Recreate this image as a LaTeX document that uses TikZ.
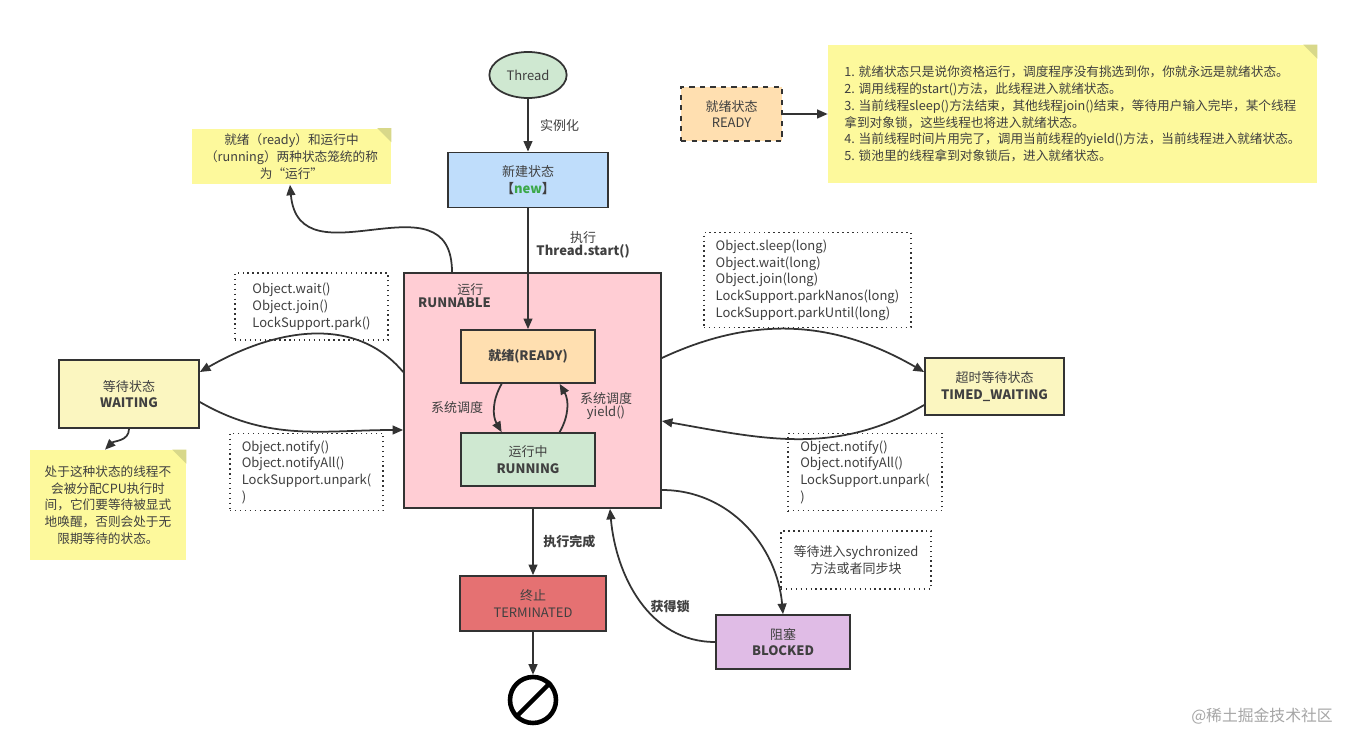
\documentclass[tikz,border=0pt]{standalone}
\usepackage{fontspec}
\setmainfont{Noto Sans CJK SC}
\usetikzlibrary{arrows.meta, positioning, calc, shapes.geometric}
\definecolor{edge}{HTML}{333333}
\definecolor{textgray}{HTML}{404040}
\definecolor{greenbg}{HTML}{CFE8D1}
\definecolor{bluebg}{HTML}{BFDDFB}
\definecolor{pinkbg}{HTML}{FFCDD4}
\definecolor{orangebg}{HTML}{FFDFB0}
\definecolor{yellowbg}{HTML}{FBF6C0}
\definecolor{redbg}{HTML}{E57172}
\definecolor{purplebg}{HTML}{E0BCE6}
\definecolor{notebg}{HTML}{FDF99C}
\definecolor{notefold}{HTML}{D8D88A}
\definecolor{newgreen}{HTML}{3BA848}
\tikzset{
  state/.style={rectangle, draw=edge, line width=1pt, align=center, inner sep=2pt,
    font=\fontsize{7.4}{9.5}\selectfont, text=textgray},
  dotbox/.style={rectangle, draw=edge, line width=0.8pt, dotted, align=left, inner sep=4pt,
    font=\fontsize{7.4}{9.5}\selectfont, text=textgray},
  note/.style={rectangle, fill=notebg, align=center, inner sep=3pt,
    font=\fontsize{7.2}{9.5}\selectfont, text=textgray},
  ar/.style={-{Triangle[length=6pt,width=5pt]}, draw=edge, line width=1pt},
  lb/.style={font=\fontsize{7.4}{9.5}\selectfont, text=textgray, align=center},
}
\newcommand{\fold}[1]{\fill[notefold] ($(#1.north east)+(-14,0)$) -- ++(14,14) -- ++(0,-14) -- cycle;}
\begin{document}
\begin{tikzpicture}[x=0.02cm, y=-0.02cm]
\useasboundingbox[fill=white] (0,0) rectangle (1345,733);

%% ===== NODES =====
\node[ellipse, draw=edge, line width=1pt, fill=greenbg, minimum width=1.32cm, minimum height=0.92cm,
  font=\fontsize{7.4}{9}\selectfont, text=textgray] (THREAD) at (528,75) {Thread};
\node[state, fill=bluebg, minimum width=3.2cm, minimum height=1.1cm] (NEW) at (528,180)
  {新建状态\\\textbf{【\textcolor{newgreen}{new}】}};

% -- runnable container --
\node[state, fill=pinkbg, minimum width=5.14cm, minimum height=4.7cm] (RUNNABLE) at (532.5,390.5) {};
\node[lb, anchor=north west] (RUNLBL) at (412,277) {\hspace*{18pt}运行\\[-2pt]\textbf{RUNNABLE}};
\node[state, fill=orangebg, minimum width=2.68cm, minimum height=1.06cm] (READY) at (528,356.5)
  {\textbf{就绪(READY)}};
\node[state, fill=greenbg, minimum width=2.68cm, minimum height=1.06cm] (RUNNING) at (528,459.5)
  {运行中\\\textbf{RUNNING}};

% -- side states --
\node[state, fill=yellowbg, minimum width=2.8cm, minimum height=1.36cm] (WAITING) at (129,394)
  {等待状态\\\textbf{WAITING}};
\node[state, fill=yellowbg, minimum width=2.78cm, minimum height=1.14cm] (TIMED) at (994.5,386.5)
  {超时等待状态\\\textbf{TIMED\_WAITING}};
\node[state, fill=redbg, minimum width=2.92cm, minimum height=1.1cm] (TERM) at (533,603.5)
  {终止\\TERMINATED};
\node[state, fill=purplebg, minimum width=2.68cm, minimum height=1.08cm] (BLOCKED) at (783,642)
  {阻塞\\\textbf{BLOCKED}};
\node[circle, draw=black, line width=2.6pt, minimum size=0.92cm, inner sep=0pt] (END) at (533,700) {};
\draw[black, line width=2.6pt] (END.north east) -- (END.south west);

% -- method boxes --
\node[dotbox, minimum width=3.06cm, minimum height=1.34cm] (WAITM) at (311.5,306.5)
  {Object.wait()\\Object.join()\\LockSupport.park()};
\node[dotbox, minimum width=3.06cm, minimum height=1.36cm] (NOTIFYL) at (306.5,472)
  {Object.notify()\\Object.notifyAll()\\LockSupport.unpark(\\)};
\node[dotbox, minimum width=4.14cm, minimum height=1.88cm] (TIMEDM) at (807.5,280)
  {Object.sleep(long)\\Object.wait(long)\\Object.join(long)\\LockSupport.parkNanos(long)\\LockSupport.parkUntil(long)};
\node[dotbox, minimum width=3.08cm, minimum height=1.36cm] (NOTIFYR) at (865,472)
  {Object.notify()\\Object.notifyAll()\\LockSupport.unpark(\\)};
\node[dotbox, align=center, minimum width=3.0cm, minimum height=1.16cm] (SYNC) at (856,560)
  {等待进入sychronized\\方法或者同步块};

% -- notes --
\node[note, minimum width=3.98cm, minimum height=1.06cm] (NOTE1) at (291.5,156.5)
  {就绪（ready）和运行中\\（running）两种状态笼统的称\\为“运行”};
\fold{NOTE1}
\node[note, minimum width=3.12cm, minimum height=2.2cm] (NOTE2) at (108,505)
  {处于这种状态的线程不\\会被分配CPU执行时\\间，它们要等待被显式\\地唤醒，否则会处于无\\限期等待的状态。};
\fold{NOTE2}
\node[note, minimum width=9.78cm, minimum height=2.76cm, align=left] (NOTE3) at (1072.5,114)
  {1. 就绪状态只是说你资格运行，调度程序没有挑选到你，你就永远是就绪状态。\\
   2. 调用线程的start()方法，此线程进入就绪状态。\\
   3. 当前线程sleep()方法结束，其他线程join()结束，等待用户输入完毕，某个线程\\
   拿到对象锁，这些线程也将进入就绪状态。\\
   4. 当前线程时间片用完了，调用当前线程的yield()方法，当前线程进入就绪状态。\\
   5. 锁池里的线程拿到对象锁后，进入就绪状态。};
\fold{NOTE3}
\node[state, dashed, line width=1.4pt, fill=orangebg, minimum width=2.02cm, minimum height=1.08cm] (LEGEND) at (731.5,114)
  {就绪状态\\READY};

\node[font=\fontsize{9}{11}\selectfont, text=black!35] (MARK) at (1262,716) {@稀土掘金技术社区};

%% ===== CONNECTORS =====
\draw[ar] (THREAD) -- node[lb, right=3pt]{实例化} (NEW);
\draw[ar] (NEW) -- node[lb, right=1pt, pos=0.3]{执行\\[-2pt]\textbf{Thread.start()}} (READY);
\draw[ar] ([xshift=-15pt]READY.south) to[out=-120, in=120] ([xshift=-15pt]RUNNING.north);
\node[lb] at (457,408) {系统调度};
\draw[ar] ([xshift=18pt]RUNNING.north) to[out=60, in=-60] ([xshift=18pt]READY.south);
\node[lb] at (606,406) {系统调度\\[-2pt]yield()};
\draw[ar] (RUNNABLE.west |- 0,372) to[out=130, in=30] (WAITING.east |- 0,372);
\draw[ar] (WAITING.east |- 0,402) to[out=-30, in=180] (RUNNABLE.west |- 0,430);
\draw[ar] (RUNNABLE.east |- 0,358) to[out=25, in=150] (TIMED.west |- 0,372);
\draw[ar] (TIMED.west |- 0,405) to[out=-150, in=-10] (RUNNABLE.east |- 0,421);
\draw[ar] (RUNNABLE.south -| TERM) -- node[lb, right=2pt]{\textbf{执行完成}} (TERM);
\draw[ar] (TERM) -- (END);
\draw[ar] (RUNNABLE.east |- 0,490) to[out=0, in=95] (BLOCKED.north);
\draw[ar] (BLOCKED.west) to[out=180, in=-85] (RUNNABLE.south -| 610,0);
\node[lb] at (670,607) {\textbf{获得锁}};
\draw[ar] (RUNNABLE.north -| 452,0) to[out=90, in=-85, looseness=1.4] (NOTE1.south -| 290,0);
\draw[ar] (WAITING.south) to[out=-90, in=45] (NOTE2.north -| 105,0);
\draw[ar] (LEGEND) -- (NOTE3);
\end{tikzpicture}
\end{document}
